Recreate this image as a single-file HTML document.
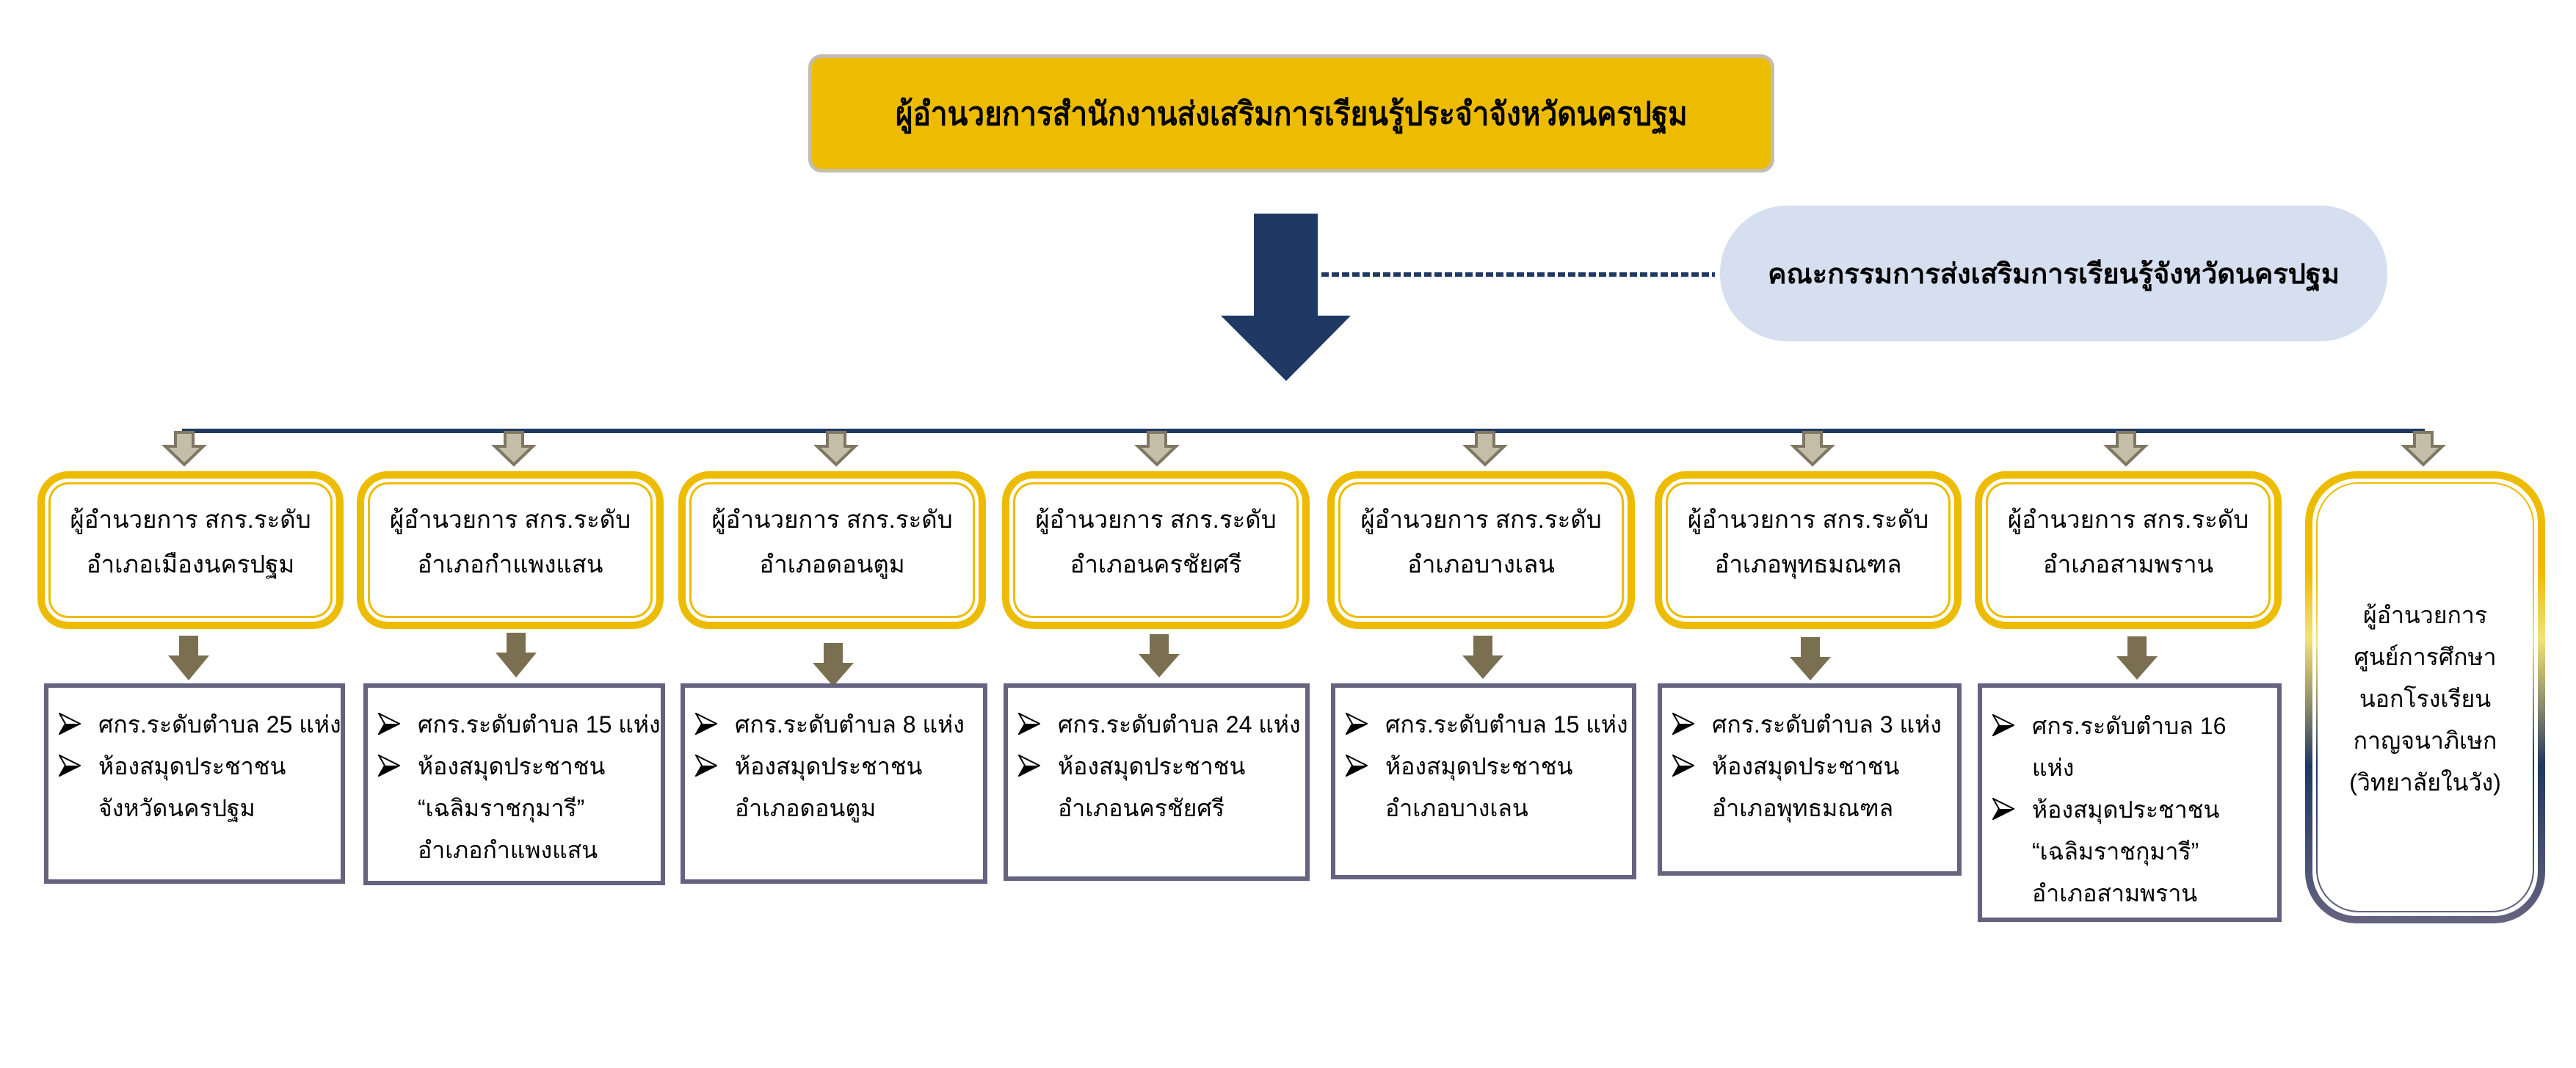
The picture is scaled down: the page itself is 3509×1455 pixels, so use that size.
<!DOCTYPE html>
<html><head><meta charset="utf-8">
<style>
*{box-sizing:border-box;margin:0;padding:0}
body{width:3509px;height:1455px;background:#fff;position:relative;overflow:hidden;font-family:"Liberation Sans","Noto Sans CJK SC",sans-serif;color:#000}
.abs{position:absolute}
.top{left:1101px;top:74px;width:1316px;height:161px;background:#EDBC00;border:5px solid #C4BDAE;border-radius:18px;display:flex;align-items:center;justify-content:center;font-weight:bold;font-size:44px}
.top span{display:inline-block;transform:scaleX(0.92)}
.pill{left:2343px;top:280px;width:909px;height:185px;background:#D6DFEF;border-radius:92px/92px;display:flex;align-items:center;justify-content:center;font-weight:bold;font-size:38px}
.yb{height:215px;top:642px;border:10px solid #EDBC00;border-radius:42px;box-shadow:inset 0 0 0 5px #fff,inset 0 0 0 8px #EDBC00;text-align:center;font-size:33px;line-height:61px;padding-top:25px;white-space:nowrap}
.bb{top:931px;border:6px solid #656380;font-size:32px;line-height:57px;padding-top:22px;white-space:nowrap}
.li{position:relative;padding-left:68px}
.li svg{position:absolute;left:14px;top:12px}
.ind{padding-left:68px}
</style></head><body>

<div class="abs top"><span>ผู้อำนวยการสำนักงานส่งเสริมการเรียนรู้ประจำจังหวัดนครปฐม</span></div>

<svg class="abs" style="left:0;top:0" width="3509" height="1455">
  <polygon points="1708,291 1795,291 1795,430 1840,430 1752,519 1663,430 1708,430" fill="#1F3864"/>
  <line x1="1800" y1="374" x2="2336" y2="374" stroke="#1F3864" stroke-width="6" stroke-dasharray="10,4"/>
  <line x1="248" y1="587" x2="3303" y2="587" stroke="#1F3864" stroke-width="6"/>
  <g fill="#C4BDA7" stroke="#7F7763" stroke-width="4">
    <polygon points="239,589 263,589 263,608 277,608 251,633 225,608 239,608"/>
    <polygon points="688,589 712,589 712,608 726,608 700,633 674,608 688,608"/>
    <polygon points="1127,589 1151,589 1151,608 1165,608 1139,633 1113,608 1127,608"/>
    <polygon points="1564,589 1588,589 1588,608 1602,608 1576,633 1550,608 1564,608"/>
    <polygon points="2011,589 2035,589 2035,608 2049,608 2023,633 1997,608 2011,608"/>
    <polygon points="2457,589 2481,589 2481,608 2495,608 2469,633 2443,608 2457,608"/>
    <polygon points="2884,589 2908,589 2908,608 2922,608 2896,633 2870,608 2884,608"/>
    <polygon points="3289,589 3313,589 3313,608 3327,608 3301,633 3275,608 3289,608"/>
  </g>
  <g fill="#7A6F50">
    <polygon points="244,866 270,866 270,893 285,893 257,927 229,893 244,893"/>
    <polygon points="690,862 716,862 716,889 731,889 703,923 675,889 690,889"/>
    <polygon points="1122,876 1148,876 1148,903 1163,903 1135,935 1107,903 1122,903"/>
    <polygon points="1566,864 1592,864 1592,891 1607,891 1579,923 1551,891 1566,891"/>
    <polygon points="2007,866 2033,866 2033,893 2048,893 2020,925 1992,893 2007,893"/>
    <polygon points="2453,868 2479,868 2479,895 2494,895 2466,927 2438,895 2453,895"/>
    <polygon points="2898,867 2924,867 2924,894 2939,894 2911,926 2883,894 2898,894"/>
  </g>
</svg>

<div class="abs pill">คณะกรรมการส่งเสริมการเรียนรู้จังหวัดนครปฐม</div>

<div class="abs yb" style="left:51px;width:417px">ผู้อำนวยการ สกร.ระดับ<br>อำเภอเมืองนครปฐม</div>
<div class="abs yb" style="left:486px;width:418px">ผู้อำนวยการ สกร.ระดับ<br>อำเภอกำแพงแสน</div>
<div class="abs yb" style="left:924px;width:419px">ผู้อำนวยการ สกร.ระดับ<br>อำเภอดอนตูม</div>
<div class="abs yb" style="left:1365px;width:419px">ผู้อำนวยการ สกร.ระดับ<br>อำเภอนครชัยศรี</div>
<div class="abs yb" style="left:1808px;width:419px">ผู้อำนวยการ สกร.ระดับ<br>อำเภอบางเลน</div>
<div class="abs yb" style="left:2254px;width:418px">ผู้อำนวยการ สกร.ระดับ<br>อำเภอพุทธมณฑล</div>
<div class="abs yb" style="left:2690px;width:418px">ผู้อำนวยการ สกร.ระดับ<br>อำเภอสามพราน</div>

<div class="abs" style="left:3140px;top:642px;width:327px;height:616px;border:10px solid transparent;border-radius:70px;background:linear-gradient(#fff,#fff) padding-box,linear-gradient(to bottom,#EDBC00 0%,#EDBC00 22%,#F3E27A 37%,#8C8A6A 52%,#1F3864 65%,#656380 100%) border-box;"></div>
<div class="abs" style="left:3155px;top:657px;width:297px;height:586px;border:2px solid transparent;border-radius:58px;background:linear-gradient(#fff,#fff) padding-box,linear-gradient(to bottom,#EDBC00 0%,#EDBC00 22%,#F3E27A 37%,#8C8A6A 52%,#1F3864 65%,#656380 100%) border-box;"></div>
<div class="abs" style="left:3140px;top:810px;width:327px;text-align:center;font-size:32px;line-height:57px">ผู้อำนวยการ<br>ศูนย์การศึกษา<br>นอกโรงเรียน<br>กาญจนาภิเษก<br>(วิทยาลัยในวัง)</div>

<svg width="0" height="0" style="position:absolute"><defs>
<symbol id="ar" viewBox="0 0 30 30"><polygon points="1,1 29,15 1,29 9,15" fill="#fff" stroke="#000" stroke-width="2"/><polygon points="1,29 29,15 9,15" fill="#000"/></symbol>
</defs></svg>

<div class="abs bb" style="left:60px;width:410px;height:273px">
<div class="li"><svg width="30" height="30"><use href="#ar"/></svg>ศกร.ระดับตำบล 25 แห่ง</div>
<div class="li"><svg width="30" height="30"><use href="#ar"/></svg>ห้องสมุดประชาชน</div>
<div class="ind">จังหวัดนครปฐม</div>
</div>
<div class="abs bb" style="left:495px;width:411px;height:275px">
<div class="li"><svg width="30" height="30"><use href="#ar"/></svg>ศกร.ระดับตำบล 15 แห่ง</div>
<div class="li"><svg width="30" height="30"><use href="#ar"/></svg>ห้องสมุดประชาชน</div>
<div class="ind">“เฉลิมราชกุมารี”</div>
<div class="ind">อำเภอกำแพงแสน</div>
</div>
<div class="abs bb" style="left:927px;width:418px;height:273px">
<div class="li"><svg width="30" height="30"><use href="#ar"/></svg>ศกร.ระดับตำบล 8 แห่ง</div>
<div class="li"><svg width="30" height="30"><use href="#ar"/></svg>ห้องสมุดประชาชน</div>
<div class="ind">อำเภอดอนตูม</div>
</div>
<div class="abs bb" style="left:1367px;width:417px;height:269px">
<div class="li"><svg width="30" height="30"><use href="#ar"/></svg>ศกร.ระดับตำบล 24 แห่ง</div>
<div class="li"><svg width="30" height="30"><use href="#ar"/></svg>ห้องสมุดประชาชน</div>
<div class="ind">อำเภอนครชัยศรี</div>
</div>
<div class="abs bb" style="left:1813px;width:416px;height:267px">
<div class="li"><svg width="30" height="30"><use href="#ar"/></svg>ศกร.ระดับตำบล 15 แห่ง</div>
<div class="li"><svg width="30" height="30"><use href="#ar"/></svg>ห้องสมุดประชาชน</div>
<div class="ind">อำเภอบางเลน</div>
</div>
<div class="abs bb" style="left:2258px;width:414px;height:262px">
<div class="li"><svg width="30" height="30"><use href="#ar"/></svg>ศกร.ระดับตำบล 3 แห่ง</div>
<div class="li"><svg width="30" height="30"><use href="#ar"/></svg>ห้องสมุดประชาชน</div>
<div class="ind">อำเภอพุทธมณฑล</div>
</div>
<div class="abs bb" style="left:2694px;width:414px;height:325px;padding-top:24px">
<div class="li"><svg width="30" height="30"><use href="#ar"/></svg>ศกร.ระดับตำบล 16</div>
<div class="ind">แห่ง</div>
<div class="li"><svg width="30" height="30"><use href="#ar"/></svg>ห้องสมุดประชาชน</div>
<div class="ind">“เฉลิมราชกุมารี”</div>
<div class="ind">อำเภอสามพราน</div>
</div>

</body></html>
